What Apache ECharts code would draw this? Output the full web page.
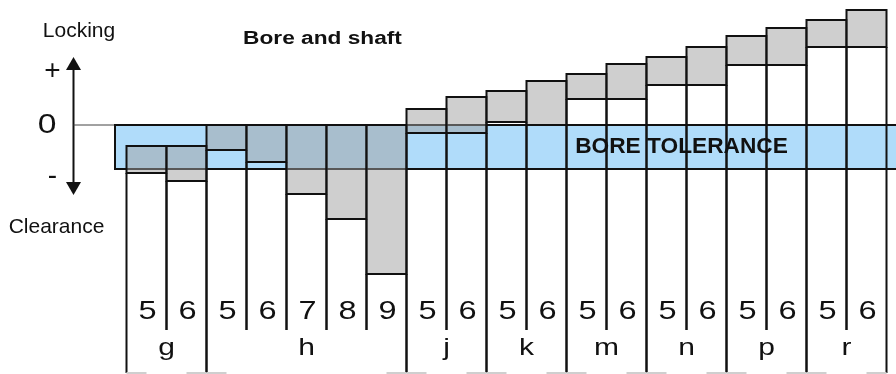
<!DOCTYPE html>
<html>
<head>
<meta charset="utf-8">
<script src="https://cdn.jsdelivr.net/npm/echarts@6/dist/echarts.min.js"></script>
<style>
  html, body { margin: 0; padding: 0; background: #ffffff; }
  #chart { width: 896px; height: 374px; }
</style>
</head>
<body>
<div id="chart"></div>
<script>
// Shaft tolerance classes, one column each
const fitGroups = ['g', 'g', 'h', 'h', 'h', 'h', 'h', 'j', 'j', 'k', 'k', 'm', 'm', 'n', 'n', 'p', 'p', 'r', 'r'];
const grades    = ['5', '6', '5', '6', '7', '8', '9', '5', '6', '5', '6', '5', '6', '5', '6', '5', '6', '5', '6'];
// Upper / lower deviation of each shaft zone (relative units, 0 = nominal size)
const upperDev = [-10.5, -10.5, 0, 0, 0, 0, 0, 8, 14, 17, 22, 25.5, 30.5, 34, 39, 44.5, 48.5, 52.5, 57.5];
const lowerDev = [-24, -28, -12.5, -18.5, -34.5, -47, -74.5, -4, -4, 1.5, 0, 13, 13, 20, 20, 30, 30, 39, 39];
// Bore tolerance zone (upper, lower)
const boreZone = [0, -22];
const boreLabel = 'BORE TOLERANCE';
const titleText = 'Bore and shaft';
const upLabel = 'Locking';
const downLabel = 'Clearance';

const FONT = '"Liberation Sans", Arial, Helvetica, sans-serif';
const INK = '#111111';

const categories = fitGroups.map((g, i) => g + grades[i]);

// consecutive runs of the same fit letter
const groupRuns = [];
fitGroups.forEach((g, i) => {
  const last = groupRuns[groupRuns.length - 1];
  if (last && last.name === g) last.end = i;
  else groupRuns.push({ name: g, start: i, end: i });
});

// centred text element, optionally widened
function label(text, x, y, font, sx) {
  return {
    type: 'text', x: x, y: y, scaleX: sx || 1, scaleY: 1,
    style: { text: text, font: font, fill: INK,
             align: 'center', verticalAlign: 'middle', textAlign: 'center', textVerticalAlign: 'middle' }
  };
}

const chart = echarts.init(document.getElementById('chart'), null, { renderer: 'canvas' });

const option = {
  animation: false,
  backgroundColor: '#ffffff',
  grid: { left: 126.5, right: 9.5, top: 0, bottom: 0, containLabel: false },
  xAxis: {
    type: 'category',
    data: categories,
    boundaryGap: true,
    show: false
  },
  yAxis: {
    type: 'value',
    min: -124.5,
    max: 62.5,
    show: false
  },
  series: [
    {
      // bore tolerance band and zero line
      type: 'custom',
      z: 1,
      data: [[0, boreZone[0], boreZone[1]]],
      renderItem(params, api) {
        const cs = params.coordSys;
        const yTop = api.coord([0, api.value(1)])[1];
        const yBot = api.coord([0, api.value(2)])[1];
        const x0 = cs.x - 11.5;
        const x1 = cs.x + cs.width + 30;
        return {
          type: 'group',
          children: [
            { type: 'line', shape: { x1: 73.5, y1: yTop, x2: x0, y2: yTop },
              style: { stroke: '#444', lineWidth: 1 } },
            { type: 'rect', shape: { x: x0, y: yTop, width: x1 - x0, height: yBot - yTop },
              style: { fill: '#b0dcfa', stroke: INK, lineWidth: 2 } },
            label(boreLabel, cs.x + 555, (yTop + yBot) / 2, 'bold 22.7px ' + FONT)
          ]
        };
      }
    },
    {
      // shaft tolerance zones
      type: 'custom',
      z: 2,
      data: categories.map((c, i) => [i, upperDev[i], lowerDev[i]]),
      renderItem(params, api) {
        const cs = params.coordSys;
        const i = params.dataIndex;
        const top = api.coord([api.value(0), api.value(1)]);
        const bot = api.coord([api.value(0), api.value(2)]);
        const w = api.size([1, 0])[0];
        const xL = top[0] - w / 2;
        const xR = top[0] + w / 2;
        const outerEnd = cs.y + cs.height - 1;
        const innerEnd = cs.y + cs.height - 44;
        const firstOfGroup = i === 0 || fitGroups[i - 1] !== fitGroups[i];
        const lastOfGroup = i === fitGroups.length - 1 || fitGroups[i + 1] !== fitGroups[i];
        return {
          type: 'group',
          children: [
            { type: 'line', shape: { x1: xL, y1: bot[1], x2: xL, y2: firstOfGroup ? outerEnd : innerEnd },
              style: { stroke: INK, lineWidth: 2 } },
            { type: 'line', shape: { x1: xR, y1: bot[1], x2: xR, y2: lastOfGroup ? outerEnd : innerEnd },
              style: { stroke: INK, lineWidth: 2 } },
            { type: 'rect', shape: { x: xL, y: top[1], width: w, height: bot[1] - top[1] },
              style: { fill: 'rgba(160,160,160,0.5)', stroke: INK, lineWidth: 2 } },
            label(grades[i], top[0] + 1, 312, '25px ' + FONT, 1.3)
          ]
        };
      }
    },
    {
      // fit letters under each group
      type: 'custom',
      z: 3,
      data: groupRuns.map(r => [r.start, r.end]),
      renderItem(params, api) {
        const cs = params.coordSys;
        const run = groupRuns[params.dataIndex];
        const w = api.size([1, 0])[0];
        const xa = api.coord([api.value(0), 0])[0] - w / 2;
        const xb = api.coord([api.value(1), 0])[0] + w / 2;
        const yb = cs.y + cs.height - 1;
        return {
          type: 'group',
          children: [
            label(run.name, (xa + xb) / 2, 348, '24px ' + FONT, 1.25),
            { type: 'line', shape: { x1: xa, y1: yb, x2: xa + 20, y2: yb },
              style: { stroke: '#cfcfcf', lineWidth: 2 } },
            { type: 'line', shape: { x1: xb - 20, y1: yb, x2: xb, y2: yb },
              style: { stroke: '#cfcfcf', lineWidth: 2 } }
          ]
        };
      }
    }
  ],
  graphic: [
    label(upLabel, 79, 31, '21px ' + FONT),
    label(downLabel, 56.5, 227, '21px ' + FONT),
    label(titleText, 322.5, 39, 'bold 18px ' + FONT, 1.26),
    label('+', 52.5, 71, '28px ' + FONT),
    label('0', 47, 125, '28px ' + FONT, 1.2),
    label('-', 52.5, 176, '28px ' + FONT),
    { type: 'line', shape: { x1: 73.5, y1: 66, x2: 73.5, y2: 186 }, style: { stroke: INK, lineWidth: 2 } },
    { type: 'polygon', shape: { points: [[66, 70], [81, 70], [73.5, 57]] }, style: { fill: INK } },
    { type: 'polygon', shape: { points: [[66, 182], [81, 182], [73.5, 195]] }, style: { fill: INK } }
  ]
};

chart.setOption(option);
</script>
</body>
</html>
